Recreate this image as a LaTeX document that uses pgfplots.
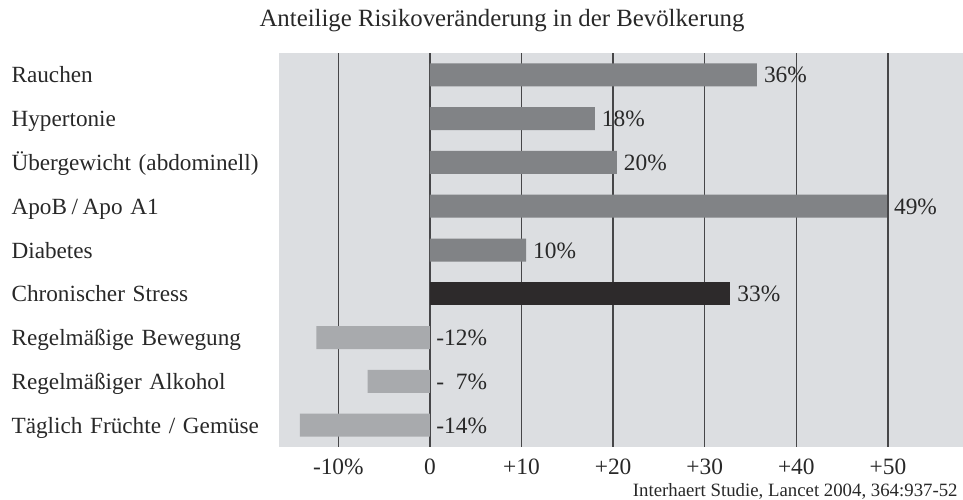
\documentclass[border=0pt]{standalone}
\usepackage{fontspec}
\setmainfont{Liberation Serif}
\usepackage{pgfplots}
\pgfplotsset{compat=1.18}

\definecolor{panel}{RGB}{220,222,225}
\definecolor{barmid}{RGB}{129,131,134}
\definecolor{bardark}{RGB}{45,42,43}
\definecolor{barlight}{RGB}{168,170,173}
\definecolor{gridc}{RGB}{70,70,72}
\definecolor{txt}{RGB}{40,40,40}

\begin{document}
\begin{tikzpicture}
\begin{axis}[
  name=ax,
  scale only axis, width=342pt, height=197pt,
  xmin=-16.48, xmax=58.2, ymin=0.5, ymax=9.5, y dir=reverse,
  axis background/.style={fill=panel},
  axis line style={draw=none},
  major tick length=0pt,
  xtick={-10,0,10,20,30,40,50},
  xticklabels={-10\%,0,+10,+20,+30,+40,+50},
  xmajorgrids, grid style={gridc, line width=0.7pt},
  ytick={1,...,9},
  yticklabels={Rauchen, Hypertonie, Übergewicht (abdominell), ApoB\hspace{0.2em}/\hspace{0.2em}Apo A1, Diabetes, Chronischer Stress, Regelmäßige Bewegung, Regelmäßiger Alkohol, Täglich Früchte / Gemüse},
  yticklabel style={anchor=base east, text width=133.5pt, align=left, inner sep=0pt, yshift=-4pt, font=\fontsize{11.6}{14}\selectfont, text=txt},
  xticklabel style={anchor=base, yshift=-13.5pt, font=\fontsize{11.7}{14}\selectfont, text=txt},
  bar width=11.5pt,
  clip=false,
]
% positive risk factors (bar lengths as drawn)
\addplot[xbar, bar shift=0pt, fill=barmid, draw=none,
  nodes near coords, point meta=explicit symbolic,
  every node near coord/.append style={anchor=base west, yshift=-4pt, font=\fontsize{11.7}{14}\selectfont, text=txt}]
  coordinates {(35.7,1)[36\%] (18.0,2)[18\%] (20.4,3)[20\%] (49.9,4)[49\%] (10.5,5)[10\%]};
% stress
\addplot[xbar, bar shift=0pt, fill=bardark, draw=none,
  nodes near coords, point meta=explicit symbolic,
  every node near coord/.append style={anchor=base west, yshift=-4pt, font=\fontsize{11.7}{14}\selectfont, text=txt}]
  coordinates {(32.8,6)[33\%]};
% protective factors
\addplot[xbar, bar shift=0pt, fill=barlight, draw=none]
  coordinates {(-12.4,7) (-6.8,8) (-14.2,9)};
% labels for protective factors, right of the zero line
\addplot[draw=none, nodes near coords, point meta=explicit symbolic,
  every node near coord/.append style={anchor=base west, yshift=-4pt, inner sep=3pt, font=\fontsize{11.7}{14}\selectfont, text=txt}]
  coordinates {(0,7)[-12\%] (0,8)[-\enspace7\%] (0,9)[-14\%]};
\end{axis}
\node[anchor=base, font=\fontsize{12.4}{15}\selectfont, text=txt]
  at ([shift={(111.5pt,210pt)}]ax.south west) {Anteilige Risikoveränderung in der Bevölkerung};
\node[anchor=base east, inner sep=0pt, font=\fontsize{9.4}{11}\selectfont, text=txt]
  at ([shift={(339.5pt,-24.8pt)}]ax.south west) {Interhaert Studie, Lancet 2004, 364:937-52};
\pgfresetboundingbox
\path ([shift={(-139.5pt,-26pt)}]ax.south west) rectangle ([shift={(342pt,223.5pt)}]ax.south west);
\end{tikzpicture}
\end{document}
